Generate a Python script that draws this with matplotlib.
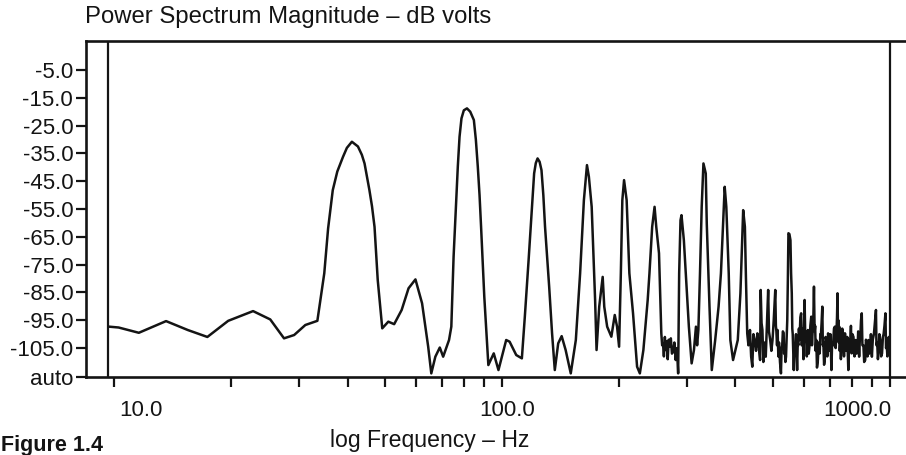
import matplotlib
matplotlib.use("Agg")
import matplotlib.pyplot as plt
import matplotlib.transforms as mtransforms
from matplotlib.ticker import FixedLocator, NullFormatter

plt.rcParams['font.family'] = ['Liberation Sans', 'DejaVu Sans']

# ---- data ----
# low band: fundamental region and first harmonics
freq_low = [
    9.7, 10.26, 11.57, 13.6, 15.47, 17.38, 19.67, 22.8, 25.25, 27.4, 29.1, 31.1, 33.4,
    34.8, 35.6, 36.6, 37.6, 38.9, 39.8, 41.0, 42.5, 43.5, 44.2, 45.5, 46.2, 46.9, 47.8,
    49.1, 50.9, 52.7, 55.1, 57.4, 59.8, 62.2, 64.5, 65.7, 67.3, 69.1, 70.5, 73.0, 74.0,
    75.0, 76.0, 76.9, 77.7, 78.6, 79.7, 81.2, 82.8, 84.6, 85.6, 86.6, 87.5, 88.3, 90.0,
    92.2, 95.2, 97.9, 102.5, 104.6, 108.8, 112.5, 114.5, 117.1, 119.5, 121.0, 122.2,
    123.5, 125.0, 126.4, 127.8, 129.1, 132.3, 134.6, 136.8, 139.6, 142.5, 145.9, 150.4,
]
level_low = [
    -97.3, -97.6, -99.5, -95.3, -98.5, -101.0, -95.2, -91.7, -94.7, -101.5, -100.3, -96.7, -95.2,
    -78.1, -62.0, -48.2, -41.5, -36.2, -33.0, -30.8, -32.5, -35.5, -38.6, -48.2, -54.0, -61.4, -80.5,
    -97.9, -95.5, -96.4, -91.3, -83.5, -80.3, -88.9, -104.5, -114.1, -108.1, -104.8, -108.1, -102.1, -97.3,
    -72.2, -55.0, -39.8, -29.0, -22.4, -19.5, -18.8, -20.0, -23.0, -30.0, -39.8, -50.0, -61.4, -86.5,
    -111.1, -106.9, -112.9, -102.1, -102.7, -107.5, -108.7, -93.7, -73.3, -54.2, -42.2, -38.5,
    -36.8, -38.0, -41.0, -50.0, -61.4, -82.9, -99.7, -112.9, -103.3, -100.7, -105.7, -114.1,
]

# mid band: harmonics between 150 and 500 Hz
freq_mid = [
    155.0, 159.0, 162.6, 165.6, 167.5, 170.3, 173.8, 175.3, 178.1, 181.8, 183.5, 186.7,
    191.4, 195.3, 198.0, 200.4, 202.5, 204.3, 206.4, 209.6, 213.0, 217.7, 223.0, 226.7,
    231.5, 237.5, 240.0, 243.9, 247.4, 249.9, 254.0, 257.5, 258.8, 260.1, 261.5, 263.0,
    264.2, 265.8, 267.5, 269.0, 270.6, 272.5, 274.3, 276.2, 278.3, 280.5, 282.5, 284.6,
    286.3, 288.6, 290.3, 294.4, 299.2, 303.3, 308.3, 312.6, 316.3, 318.5, 320.9, 324.0,
    327.3, 330.7, 335.3, 337.3, 342.8, 347.5, 354.6, 361.8, 366.9, 371.3, 375.2, 378.8,
    384.3, 388.0, 394.3, 399.8, 405.5, 411.9, 416.2, 418.7, 423.0, 425.6, 428.9, 432.0,
    436.0, 439.0, 442.0, 445.0, 448.2, 452.0, 455.5, 459.0, 463.0, 464.6, 467.0, 469.4,
    472.0, 475.0, 478.8, 485.7, 488.0, 491.6, 495.0, 498.4, 502.0,
]
level_mid = [
    -102.1, -78.1, -51.8, -39.2, -43.4, -54.2, -87.7, -105.7, -90.1, -79.4, -90.1, -97.3,
    -100.9, -93.1, -97.3, -104.5, -78.1, -51.8, -44.6, -51.8, -78.1, -92.5, -111.7, -114.1,
    -105.7, -87.7, -78.1, -61.4, -54.2, -61.4, -70.9, -99.7, -104.0, -103.3, -108.0, -101.0,
    -105.7, -102.5, -109.0, -102.0, -104.5, -101.5, -107.0, -106.3, -103.0, -109.3, -105.0, -114.1,
    -78.1, -59.0, -57.2, -66.2, -82.9, -97.3, -110.5, -105.7, -97.3, -104.0, -98.5, -78.1,
    -54.2, -38.6, -42.2, -60.2, -90.1, -112.9, -102.1, -90.1, -78.1, -61.4, -47.0, -54.2,
    -78.1, -102.1, -109.3, -105.7, -102.1, -85.3, -66.2, -55.4, -61.4, -79.4, -99.7, -104.0,
    -98.5, -108.0, -111.7, -100.0, -102.1, -106.0, -99.7, -104.0, -109.3, -84.1, -96.0, -98.5,
    -110.0, -103.0, -108.1, -84.1, -99.0, -102.1, -106.0, -102.1, -95.0,
]

# high band: noisy region up to 1 kHz
freq_high = [
    506.6, 508.5, 510.0, 512.0, 513.6, 516.0, 518.0, 521.0, 524.0, 526.0, 528.0, 530.0,
    532.5, 534.0, 536.0, 538.0, 540.0, 542.0, 544.0, 546.0, 547.8, 551.0, 554.4, 556.5,
    558.8, 560.5, 562.0, 564.0, 565.5, 568.0, 570.0, 573.0, 576.8, 579.0, 581.0, 583.0,
    585.2, 588.0, 590.8, 593.0, 596.0, 599.0, 603.0, 605.0, 608.0, 611.0, 615.0, 618.0,
    621.0, 624.0, 627.3, 630.0, 632.0, 635.0, 637.5, 640.0, 642.0, 644.0, 646.4, 649.0,
    652.0, 656.0, 659.7, 662.0, 664.0, 667.0, 669.9, 672.0, 674.0, 677.0, 679.7, 683.0,
    686.0, 690.0, 693.3, 697.0, 700.0, 703.0, 707.2, 710.0, 714.0, 718.0, 721.8, 725.0,
    728.0, 731.0, 733.2, 735.0, 737.0, 739.0, 740.7, 743.0, 745.0, 748.0, 751.0, 754.0,
    758.0, 762.0, 766.5, 770.0, 773.0, 777.0, 781.8, 786.0, 790.0, 794.0, 797.4, 801.0,
    806.0, 811.0, 816.8, 821.0, 825.0, 829.0, 833.7, 837.0, 840.0, 843.0, 846.7, 850.0,
    855.0, 859.0, 864.2, 868.0, 872.0, 876.0, 881.5, 885.0, 890.0, 894.0, 899.2, 904.0,
    910.0, 915.0, 921.2, 924.0, 928.0, 932.0, 936.2, 940.0, 945.0, 950.0, 955.0, 960.0,
    964.0, 969.0, 974.5, 978.0, 982.0, 986.0, 989.7, 994.0, 998.0,
]
level_high = [
    -84.1, -97.0, -99.0, -104.0, -98.5, -108.0, -103.0, -110.0, -114.1, -105.0, -104.0, -99.0,
    -99.6, -107.0, -104.0, -110.0, -108.1, -101.0, -95.0, -80.0, -63.7, -64.0, -66.2, -78.0,
    -85.3, -98.0, -100.0, -108.0, -112.9, -104.0, -105.0, -100.0, -112.9, -103.0, -104.0, -98.0,
    -102.1, -94.0, -92.5, -104.0, -98.0, -109.0, -87.7, -99.0, -100.0, -108.0, -98.5, -107.0,
    -104.0, -97.0, -93.7, -104.0, -100.0, -95.0, -82.9, -99.0, -97.0, -106.0, -102.1, -112.0,
    -110.0, -103.0, -106.9, -100.0, -101.0, -96.0, -90.1, -104.0, -103.0, -111.0, -109.3, -101.0,
    -102.0, -108.0, -99.7, -104.0, -106.0, -100.0, -112.9, -103.0, -104.0, -98.0, -97.3, -105.0,
    -101.0, -94.0, -85.3, -97.0, -95.0, -103.0, -97.3, -106.0, -103.0, -109.0, -104.5, -98.0,
    -100.0, -108.0, -99.7, -104.0, -106.0, -101.0, -112.9, -102.0, -104.0, -97.0, -106.9, -100.0,
    -101.0, -108.0, -102.1, -107.0, -106.0, -99.0, -108.1, -102.0, -100.0, -95.0, -92.5, -104.0,
    -104.0, -110.0, -109.3, -102.0, -103.0, -108.0, -102.1, -107.0, -106.0, -100.0, -108.1, -102.0,
    -100.0, -96.0, -91.3, -104.0, -103.0, -109.0, -105.7, -100.0, -102.0, -108.0, -106.9, -101.0,
    -100.0, -97.0, -92.5, -105.0, -104.0, -108.0, -105.7, -101.0, -104.5,
]

y_tick_values = [-5, -15, -25, -35, -45, -55, -65, -75, -85, -95, -105]
y_tick_labels = ["-5.0", "-15.0", "-25.0", "-35.0", "-45.0", "-55.0", "-65.0",
                 "-75.0", "-85.0", "-95.0", "-105.0"]
x_major_ticks = [10, 100, 1000]
x_major_labels = ["10.0", "100.0", "1000.0"]
x_minor_ticks = [20, 30, 40, 50, 60, 70, 80, 90, 200, 300, 400, 500, 600, 700, 800, 900]

freq_hz = freq_low + freq_mid + freq_high
level_db = level_low + level_mid + level_high
assert len(freq_hz) == len(level_db)

# ---- figure ----
W, H = 906, 455
INK = "#141414"
fig = plt.figure(figsize=(W / 100, H / 100), dpi=100)
ax = fig.add_axes([86 / W, (H - 377) / H, (W - 86) / W + 0.01, (377 - 41) / H])

ax.plot(freq_hz, level_db, color=INK, lw=1.8, solid_joinstyle="round")
ax.set_xscale("log")
ax.set_xlim(8.454, 1162)
y_bottom = -115.4
ax.set_ylim(y_bottom, 5.43)

ax.axvline(9.646, color=INK, lw=1.6)
ax.axvline(1000, color=INK, lw=1.6)

for s in ["left", "top", "bottom"]:
    ax.spines[s].set_linewidth(1.9)
    ax.spines[s].set_color(INK)
ax.spines["right"].set_visible(False)

ax.set_yticks(y_tick_values + [y_bottom])
ax.set_yticklabels(y_tick_labels + ["auto"])
ax.tick_params(axis="y", direction="out", length=7.2, width=1.6, pad=2,
               labelsize=16, colors=INK)

ax.xaxis.set_major_locator(FixedLocator(x_major_ticks))
ax.xaxis.set_minor_locator(FixedLocator(x_minor_ticks))
ax.xaxis.set_minor_formatter(NullFormatter())
ax.set_xticklabels(x_major_labels)
ax.tick_params(axis="x", which="both", direction="out", length=7.2, width=1.6,
               pad=9, labelsize=16, colors=INK)

offsets = [(27, "center"), (5, "center"), (2, "right")]
for lab, (dx, ha) in zip(ax.get_xticklabels(), offsets):
    lab.set_ha(ha)
    lab.set_transform(lab.get_transform() +
                      mtransforms.ScaledTranslation(dx / 100, 0, fig.dpi_scale_trans))

fig.text(85 / W, 1 - 17 / H, "Power Spectrum Magnitude \u2013 dB volts",
         fontsize=17.2, va="center", ha="left", color=INK)
fig.text(430 / W, 1 - 440 / H, "log Frequency \u2013 Hz",
         fontsize=16.6, va="center", ha="center", color=INK)
fig.text(1 / W, 1 - 445 / H, "Figure 1.4", fontsize=15.5, fontweight="bold",
         va="center", ha="left", color=INK)

fig.savefig("out.png", dpi=100)
